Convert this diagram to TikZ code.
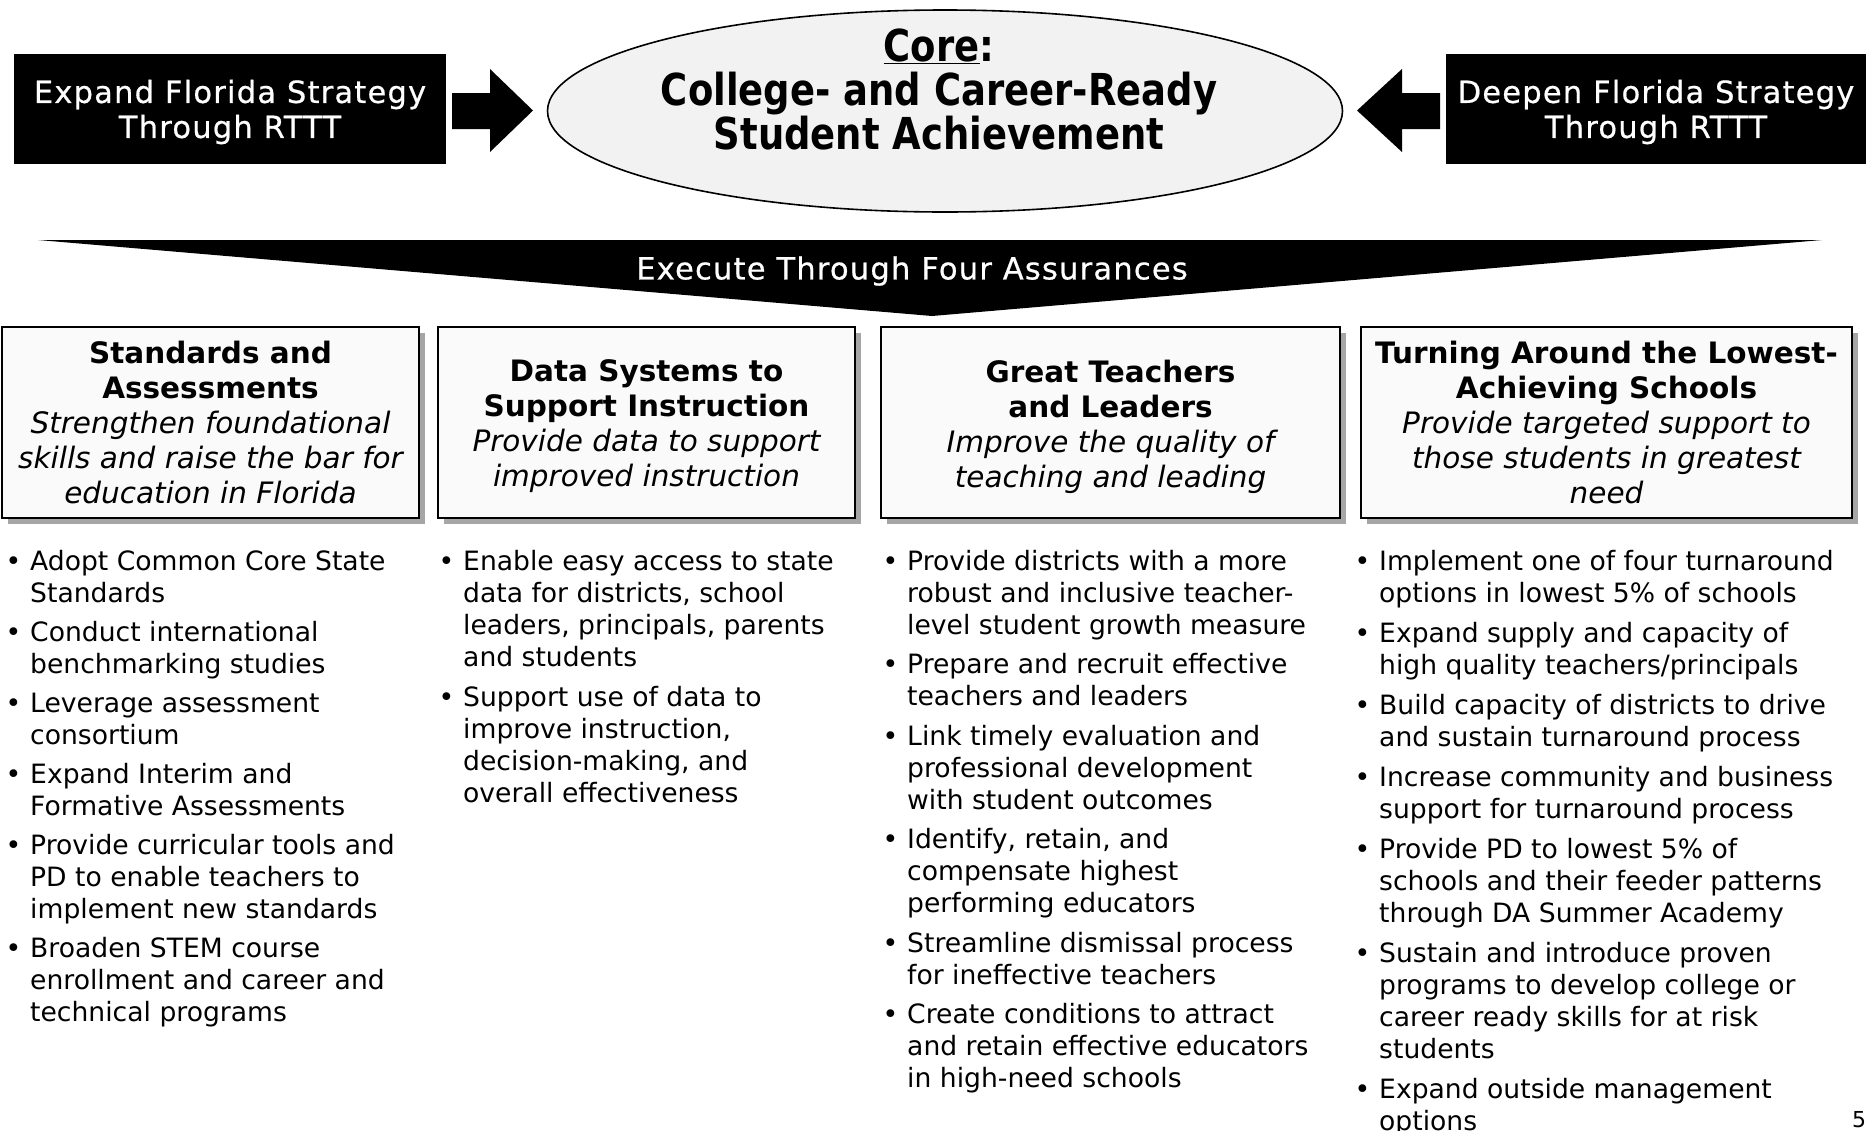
\documentclass[tikz,border=0pt]{standalone}
\usepackage{fontspec}
\setmainfont{DejaVu Sans}
\newfontfamily\corefont[FakeStretch=0.84]{DejaVu Sans}
\newfontfamily\spacedfont[LetterSpace=4, FakeBold=0.6]{DejaVu Sans}
\usetikzlibrary{shapes.geometric,shadows}
\newcommand{\hdbold}[1]{{\bfseries #1}}
\newcommand{\hdital}[1]{{\itshape #1}}
\newcommand{\bulpt}{\llap{•\hspace{9pt}}}
\tikzset{
  blackbox/.style={fill=black, inner sep=0pt},
  whitetext/.style={text=white, inner sep=0pt, align=center, font=\spacedfont\fontsize{30.5}{35}\selectfont},
  corestyle/.style={draw=black, line width=1.6pt, fill=gray!10, ellipse, inner sep=0pt},
  headbox/.style={draw=black, line width=1.6pt, fill=gray!4, inner sep=0pt,
     drop shadow={shadow xshift=5.5pt, shadow yshift=-5.5pt, fill=gray!70, opacity=1}},
  headtext/.style={align=center, inner sep=0pt, font=\fontsize{29.5}{35}\selectfont},
  bullets/.style={anchor=north west, align=left, inner sep=0pt, font=\fontsize{26.6}{32}\selectfont},
}
\begin{document}
\begin{tikzpicture}[x=1pt,y=-1pt]
\useasboundingbox (0,0) rectangle (1866,1130);
% top row
\node[blackbox, minimum width=432, minimum height=110] (expand) at (230,109) {};
\node[whitetext] (expandt) at ([yshift=-3pt]expand.center) {Expand Florida Strategy\\Through RTTT};
\node[blackbox, minimum width=420, minimum height=110] (deepen) at (1656,109) {};
\node[whitetext] (deepent) at ([yshift=-3pt]deepen.center) {Deepen Florida Strategy\\Through RTTT};
\node[corestyle, minimum width=795, minimum height=202] (core) at (945,111) {};
\node[align=center, inner sep=0pt, font=\corefont\bfseries\fontsize{44}{44}\selectfont] (coretext) at (939,89)
  {\underline{Core}:\\College- and Career-Ready\\Student Achievement};
% block arrows
\fill (452,93) -- (490,93) -- (490,69) -- (533,110.5) -- (490,152) -- (490,129) -- (452,129) -- cycle;
\fill (1440,93) -- (1402,93) -- (1402,69) -- (1357,110.5) -- (1402,152) -- (1402,129) -- (1440,129) -- cycle;
% banner
\coordinate (bl) at (38,240);
\coordinate (br) at (1822,240);
\coordinate (bb) at (932,316);
\fill (bl) -- (br) -- (bb) -- cycle;
\node[whitetext] (banner) at (912,271) {Execute Through Four Assurances};
% header boxes
\node[headbox, minimum width=417, minimum height=191] (h1) at (210.5,422.5) {};
\node[headtext] (h1t) at (h1.center)
 {\hdbold{Standards and}\\\hdbold{Assessments}\\\hdital{Strengthen foundational}\\\hdital{skills and raise the bar for}\\\hdital{education in Florida}};
\node[headbox, minimum width=417, minimum height=191] (h2) at (646.5,422.5) {};
\node[headtext] (h2t) at ([yshift=-4pt]h2.center)
 {\hdbold{Data Systems to}\\\hdbold{Support Instruction}\\\hdital{Provide data to support}\\\hdital{improved instruction}};
\node[headbox, minimum width=459, minimum height=191] (h3) at (1110.5,422.5) {};
\node[headtext] (h3t) at ([yshift=-4pt]h3.center)
 {\hdbold{Great Teachers}\\\hdbold{and Leaders}\\\hdital{Improve the quality of}\\\hdital{teaching and leading}};
\node[headbox, minimum width=491, minimum height=191] (h4) at (1606.5,422.5) {};
\node[headtext] (h4t) at (h4.center)
 {\hdbold{Turning Around the Lowest-}\\\hdbold{Achieving Schools}\\\hdital{Provide targeted support to}\\\hdital{those students in greatest}\\\hdital{need}};
% bullet columns
\node[bullets] (c1) at (30,550) {\rule{0pt}{20pt}\bulpt Adopt Common Core State\\Standards\\[7pt]
\bulpt Conduct international\\benchmarking studies\\[7pt]
\bulpt Leverage assessment\\consortium\\[7pt]
\bulpt Expand Interim and\\Formative Assessments\\[7pt]
\bulpt Provide curricular tools and\\PD to enable teachers to\\implement new standards\\[7pt]
\bulpt Broaden STEM course\\enrollment and career and\\technical programs};
\node[bullets] (c2) at (463,550) {\rule{0pt}{20pt}\bulpt Enable easy access to state\\data for districts, school\\leaders, principals, parents\\and students\\[8pt]
\bulpt Support use of data to\\improve instruction,\\decision-making, and\\overall effectiveness};
\node[bullets] (c3) at (907,550) {\rule{0pt}{20pt}\bulpt Provide districts with a more\\robust and inclusive teacher-\\level student growth measure\\[7.5pt]
\bulpt Prepare and recruit effective\\teachers and leaders\\[7.5pt]
\bulpt Link timely evaluation and\\professional development\\with student outcomes\\[7.5pt]
\bulpt Identify, retain, and\\compensate highest\\performing educators\\[7.5pt]
\bulpt Streamline dismissal process\\for ineffective teachers\\[7.5pt]
\bulpt Create conditions to attract\\and retain effective educators\\in high-need schools};
\node[bullets] (c4) at (1379,550) {\rule{0pt}{20pt}\bulpt Implement one of four turnaround\\options in lowest 5\% of schools\\[8pt]
\bulpt Expand supply and capacity of\\high quality teachers/principals\\[8pt]
\bulpt Build capacity of districts to drive\\and sustain turnaround process\\[8pt]
\bulpt Increase community and business\\support for turnaround process\\[8pt]
\bulpt Provide PD to lowest 5\% of\\schools and their feeder patterns\\through DA Summer Academy\\[8pt]
\bulpt Sustain and introduce proven\\programs to develop college or\\career ready skills for at risk\\students\\[8pt]
\bulpt Expand outside management\\options};
\node[anchor=base west, inner sep=0pt, font=\fontsize{22}{26}\selectfont] (pagenum) at (1852,1127) {5};
\end{tikzpicture}
\end{document}
